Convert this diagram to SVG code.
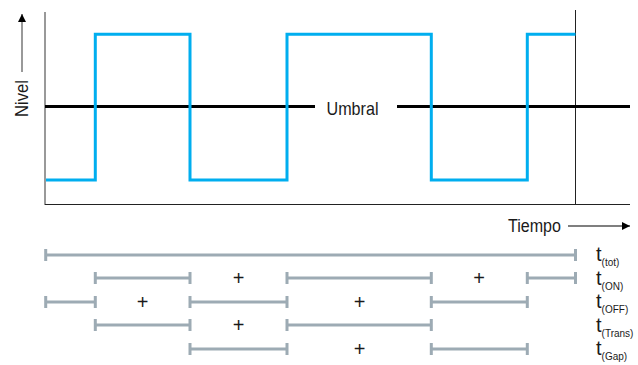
<svg xmlns="http://www.w3.org/2000/svg" width="638" height="365" viewBox="0 0 638 365">
<defs>
<marker id="ah" viewBox="0 0 10 10" refX="10" refY="5" markerWidth="12" markerHeight="8" markerUnits="userSpaceOnUse" orient="auto">
<path d="M0,0 L10,5 L0,10 Z" fill="#000"/>
</marker>
</defs>
<style>
.txt{font-family:"Liberation Sans Narrow","Liberation Sans",Arial,sans-serif;fill:#1a1a1a}
.bar{stroke:#9dabb4;stroke-width:3;fill:none}
.plus{font-family:"Liberation Sans",Arial,sans-serif;font-size:20px;fill:#1a1a1a;text-anchor:middle}
.t{font-family:"Liberation Sans Narrow","Liberation Sans",Arial,sans-serif;font-size:20px;fill:#1a1a1a}
.sub{font-size:10px}
</style>
<rect width="638" height="365" fill="#fff"/>
<g id="axes">
<line x1="45" y1="12" x2="45" y2="205" stroke="#777" stroke-width="1.5"/>
<line x1="45" y1="204.5" x2="630" y2="204.5" stroke="#222" stroke-width="1.2"/>
<line x1="575.5" y1="10" x2="575.5" y2="204" stroke="#222" stroke-width="1"/>
<line x1="22" y1="72" x2="22" y2="14" stroke="#555" stroke-width="1.2" marker-end="url(#ah)"/>
<text class="txt" font-size="18" transform="translate(28,98.5) rotate(-90)" text-anchor="middle" textLength="37" lengthAdjust="spacingAndGlyphs">Nivel</text>
<line x1="568" y1="226" x2="630" y2="226" stroke="#000" stroke-width="1.2" marker-end="url(#ah)"/>
<text class="txt" font-size="18" x="508" y="232" textLength="53" lengthAdjust="spacingAndGlyphs">Tiempo</text>
</g>
<g id="threshold">
<line x1="45" y1="106.5" x2="315" y2="106.5" stroke="#000" stroke-width="3"/>
<line x1="397" y1="106.5" x2="630" y2="106.5" stroke="#000" stroke-width="3"/>
<text class="txt" font-size="19" x="326.5" y="115" textLength="52" lengthAdjust="spacingAndGlyphs">Umbral</text>
</g>
<g id="signal">
<polyline points="46,180 95.3,180 95.3,34.3 190,34.3 190,180 287,180 287,34.3 431.3,34.3 431.3,180 527.3,180 527.3,34.3 575.5,34.3" fill="none" stroke="#00aeef" stroke-width="3"/>
</g>
<g id="connectors">
<path class="bar" d="M45.7,249V261M45.7,255H575.5M575.5,249V261"/>
<path class="bar" d="M95.3,272V284M95.3,278H190M190,272V284 M287,272V284M287,278H431.3M431.3,272V284 M527.3,272V284M527.3,278H575.5M575.5,272V284"/>
<path class="bar" d="M45.7,296V308M45.7,302H95.3M95.3,296V308 M190,296V308M190,302H287M287,296V308 M431.3,296V308M431.3,302H527.3M527.3,296V308"/>
<path class="bar" d="M95.3,319V331M95.3,325H190M190,319V331 M287,319V331M287,325H431.3M431.3,319V331"/>
<path class="bar" d="M190,343V355M190,349H287M287,343V355 M431.3,343V355M431.3,349H527.3M527.3,343V355"/>
</g>
<g id="plus">
<text class="plus" x="238.5" y="285">+</text>
<text class="plus" x="479" y="285">+</text>
<text class="plus" x="142.5" y="309">+</text>
<text class="plus" x="359.5" y="309">+</text>
<text class="plus" x="238.5" y="332">+</text>
<text class="plus" x="359.5" y="356">+</text>
</g>
<g id="labels">
<text class="t" x="596" y="261">t<tspan class="sub" dy="5">(tot)</tspan></text>
<text class="t" x="596" y="284.5">t<tspan class="sub" dy="5">(ON)</tspan></text>
<text class="t" x="596" y="308">t<tspan class="sub" dy="5">(OFF)</tspan></text>
<text class="t" x="596" y="331.5">t<tspan class="sub" dy="5">(Trans)</tspan></text>
<text class="t" x="596" y="355">t<tspan class="sub" dy="5">(Gap)</tspan></text>
</g>
</svg>
